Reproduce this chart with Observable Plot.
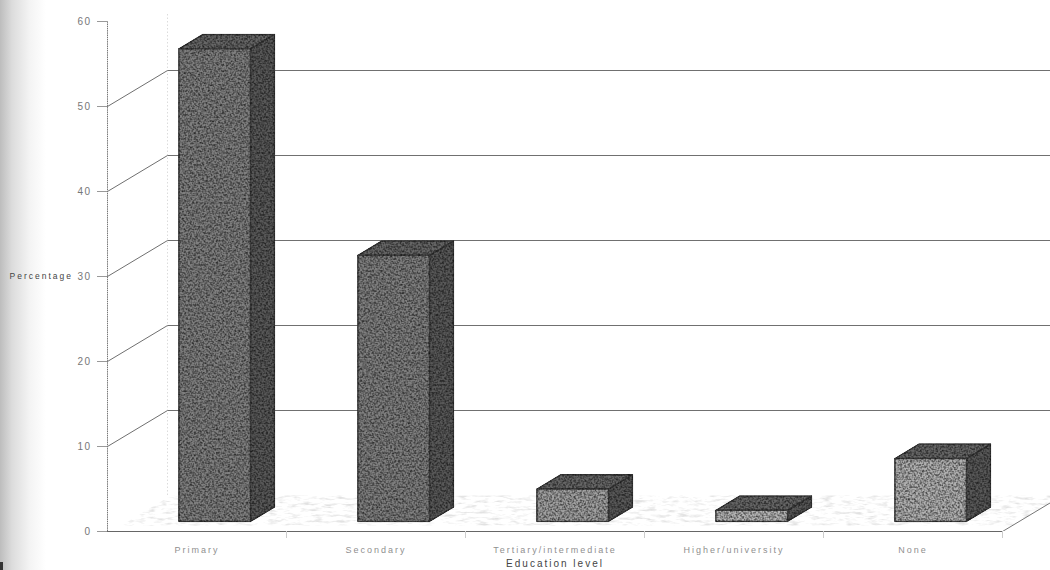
<!DOCTYPE html>
<html>
<head>
<meta charset="utf-8">
<script src="https://cdn.jsdelivr.net/npm/d3@7"></script>
<script src="https://cdn.jsdelivr.net/npm/@observablehq/plot@0.6"></script>
<style>
  html, body { margin: 0; padding: 0; width: 1050px; height: 570px; overflow: hidden; }
  body {
    background:
      linear-gradient(#333, #333) 0 562px / 3px 8px no-repeat,
      linear-gradient(to right, #bdbdbd 0, #dcdcdc 12px, #f4f4f4 30px, #ffffff 46px) 0 0 / 60px 570px no-repeat,
      #fff;
  }
  svg { display: block; }
  svg text { letter-spacing: 2px; }
  g[aria-label="y-axis tick label"] text { letter-spacing: 1.5px; }
  #filters { position: absolute; width: 0; height: 0; }
</style>
</head>
<body>
<svg id="filters" aria-hidden="true">
  <defs>
    <!-- Mottled print texture for the solid faces of the bars -->
    <filter id="grain" x="-1%" y="-1%" width="102%" height="102%" color-interpolation-filters="sRGB">
      <feTurbulence type="fractalNoise" baseFrequency="0.5" numOctaves="3" seed="7" result="noise"/>
      <feColorMatrix in="noise" type="matrix"
        values="1.5 0 0 0 0.02  1.5 0 0 0 0.02  1.5 0 0 0 0.02  0 0 0 0 1"/>
      <feGaussianBlur stdDeviation="0.45" result="gray"/>
      <feComposite in="SourceGraphic" in2="gray" operator="arithmetic" k1="1.0" k2="0.13" k3="0" k4="0" result="mottled"/>
      <feComposite in="mottled" in2="SourceAlpha" operator="in"/>
    </filter>
    <!-- Sparse speckle for the floor of the chart -->
    <filter id="speckle" x="0" y="0" width="100%" height="100%" color-interpolation-filters="sRGB">
      <feTurbulence type="fractalNoise" baseFrequency="0.09 0.35" numOctaves="3" seed="11" result="noise"/>
      <feColorMatrix in="noise" type="matrix" result="mask"
        values="0 0 0 0 0  0 0 0 0 0  0 0 0 0 0  3 0 0 0 -1.45"/>
      <feComposite in="SourceGraphic" in2="mask" operator="in"/>
    </filter>
  </defs>
</svg>
<script>
// Highest education level attained, share of respondents
const categories = ["Primary", "Secondary", "Tertiary/intermediate", "Higher/university", "None"];
const percentages = [55.6, 31.3, 3.8, 1.3, 7.4];
const gridValues = [10, 20, 30, 40, 50];
const yTicks = [0, 10, 20, 30, 40, 50, 60];

// Shade of each bar's front face
const frontTones = ["#707070", "#707070", "#8e8e8e", "#a0a0a0", "#9c9c9c"];

// Oblique projection: depth z (0 front of floor, 1 back wall) shifts a point
// right along x (in category slots) and up along y (in percentage points).
const depthX = 60 / 179;
const depthY = 36 / 8.5;
const at = (slot, value, z) => ({x: slot + z * depthX, y: value + z * depthY});

const barZ0 = 0.28;
const barZ1 = 0.68;
const barInset = 0.305;
const barWidth = 0.4;

const bars = categories.map((name, i) => ({
  name,
  value: percentages[i],
  tone: frontTones[i],
  left: i + barInset,
  right: i + barInset + barWidth
}));

// Each face is a closed polygon tagged with the bar it belongs to
const polygon = (b, corners) => [...corners, corners[0]].map(p => ({...p, bar: b.name, tone: b.tone}));
const frontFace = bars.flatMap(b => polygon(b, [
  at(b.left, 0, barZ0), at(b.right, 0, barZ0), at(b.right, b.value, barZ0), at(b.left, b.value, barZ0)
]));
const sideFace = bars.flatMap(b => polygon(b, [
  at(b.right, 0, barZ0), at(b.right, 0, barZ1), at(b.right, b.value, barZ1), at(b.right, b.value, barZ0)
]));
const topFace = bars.flatMap(b => polygon(b, [
  at(b.left, b.value, barZ0), at(b.right, b.value, barZ0), at(b.right, b.value, barZ1), at(b.left, b.value, barZ1)
]));

// Grid lines run from the value axis back to the wall, then along it
const gridLines = gridValues.flatMap(v => [
  {v, ...at(0, v, 0)},
  {v, ...at(0, v, 1)},
  {v, ...at(5, v, 1)}
]);

const floorEdge = [at(5, 0, 0), at(5, 0, 1)];
const floorPatch = [at(0.02, 0, 0.17), at(5, 0, 0.17), at(5, 0, 1), at(0.02, 0, 1), at(0.02, 0, 0.17)];

const slotCenters = categories.map((_, i) => i + 0.5);
const slotEdges = categories.map((_, i) => i + 1);

// Renders a mark as usual and runs its group through one of the SVG filters above
const filtered = id => (index, scales, values, dimensions, context, next) => {
  const g = next(index, scales, values, dimensions, context);
  g.setAttribute("filter", `url(#${id})`);
  return g;
};

const chart = Plot.plot({
  width: 1050,
  height: 570,
  marginLeft: 107,
  marginRight: 0,
  marginTop: 21,
  marginBottom: 39,
  style: {background: "transparent", fontFamily: "Liberation Sans, Arial, sans-serif", fontSize: "9px"},
  x: {domain: [0, 943 / 179], axis: null},
  y: {domain: [0, 60], axis: null},
  color: {type: "identity"},
  marks: [
    Plot.line(floorPatch, {x: "x", y: "y", fill: "#e2e2e2", stroke: "none", render: filtered("speckle")}),
    Plot.ruleX([at(0, 0, 1).x], {y1: at(0, 0, 1).y, y2: 61, stroke: "#dcdcdc", strokeDasharray: "1.5,2"}),
    Plot.line(gridLines, {x: "x", y: "y", z: "v", stroke: "#707070", strokeWidth: 1, clip: true}),
    Plot.line(floorEdge, {x: "x", y: "y", stroke: "#777", strokeWidth: 1, clip: true}),
    Plot.ruleX([0], {y1: 0, y2: 60, stroke: "#777", strokeDasharray: "1.5,0.7"}),
    Plot.ruleY([0], {x1: 0, x2: 5, stroke: "#666", strokeWidth: 1.2}),
    Plot.axisY({ticks: yTicks, tickSize: 10, tickPadding: 6, stroke: "#999", color: "#777", fontSize: 10, label: null}),
    Plot.axisX({ticks: slotEdges, tickSize: 7, tickFormat: () => "", stroke: "#ccc", label: null}),
    Plot.axisX({
      ticks: slotCenters,
      tickSize: 0,
      tickPadding: 15,
      tickFormat: c => categories[c - 0.5],
      color: "#8f8f8f",
      label: null
    }),
    Plot.line(sideFace, {x: "x", y: "y", z: "bar", fill: "#4e4e4e", stroke: "#333", render: filtered("grain")}),
    Plot.line(topFace, {x: "x", y: "y", z: "bar", fill: "#5a5a5a", stroke: "#333", render: filtered("grain")}),
    Plot.line(frontFace, {x: "x", y: "y", z: "bar", fill: "tone", stroke: "#3a3a3a", render: filtered("grain")}),
    Plot.text(["Percentage"], {frameAnchor: "left", dx: -98, textAnchor: "start", fill: "#444", fontSize: 8.5}),
    Plot.text(["Education level"], {x: [2.5], frameAnchor: "bottom", dy: 35, fill: "#444", fontSize: 10})
  ]
});
document.body.appendChild(chart);
</script>
</body>
</html>
